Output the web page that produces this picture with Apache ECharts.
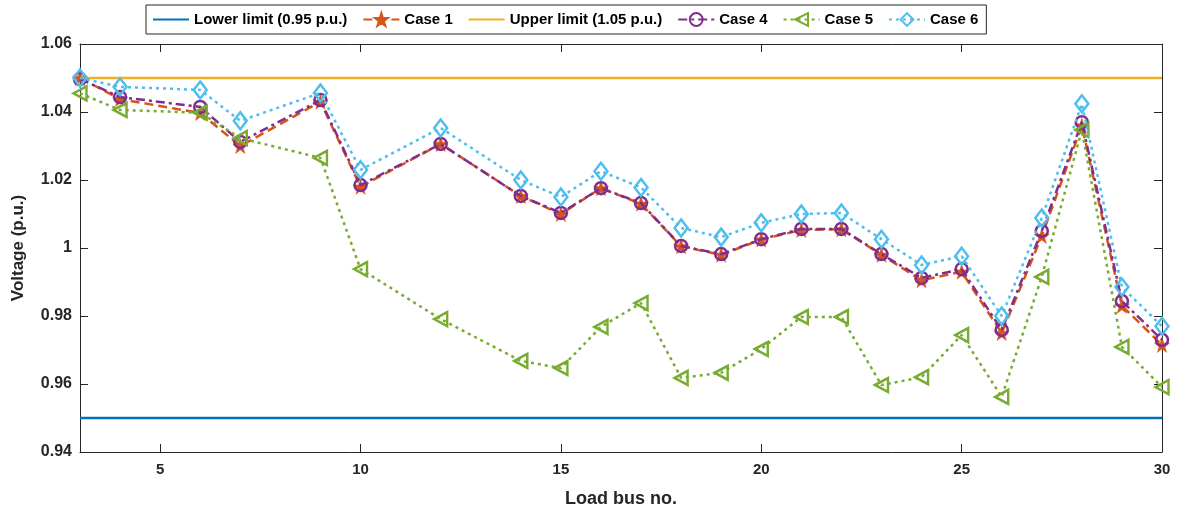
<!DOCTYPE html>
<html>
<head>
<meta charset="utf-8">
<script src="https://cdn.jsdelivr.net/npm/echarts@6/dist/echarts.min.js"></script>
<style>
html,body{margin:0;padding:0;background:#fff;}
#c{width:1187px;height:514px;}
</style>
</head>
<body>
<div id="c"></div>
<script>
const buses = [3,4,6,7,9,10,12,14,15,16,17,18,19,20,21,22,23,24,25,26,27,28,29,30];
const case1 = [1.0500,1.0438,1.0397,1.0300,1.0430,1.0180,1.0306,1.0153,1.0100,1.0176,1.0130,1.0005,0.9980,1.0025,1.0053,1.0055,0.9980,0.9905,0.9930,0.9750,1.0035,1.0360,0.9830,0.9715];
const case4 = [1.0497,1.0444,1.0415,1.0312,1.0435,1.0185,1.0306,1.0153,1.0103,1.0176,1.0132,1.0006,0.9982,1.0026,1.0056,1.0056,0.9982,0.9912,0.9938,0.9759,1.0050,1.0370,0.9844,0.9730];
const case5 = [1.0455,1.0406,1.0398,1.0323,1.0265,0.9938,0.9791,0.9668,0.9647,0.9768,0.9838,0.9618,0.9633,0.9703,0.9797,0.9797,0.9597,0.9620,0.9744,0.9562,0.9915,1.0347,0.9709,0.9591];
const case6 = [1.0500,1.0474,1.0465,1.0374,1.0456,1.0230,1.0353,1.0200,1.0150,1.0226,1.0178,1.0059,1.0032,1.0074,1.0100,1.0103,1.0026,0.9950,0.9976,0.9800,1.0088,1.0424,0.9885,0.9770];
const lowerLimit = 0.95;
const upperLimit = 1.05;
const xTicks = [5,10,15,20,25,30];
const names = ['Lower limit (0.95 p.u.)','Case 1','Upper limit (1.05 p.u.)','Case 4','Case 5','Case 6'];

const pair = arr => buses.map((b,i)=>[b,arr[i]]);
const xMin = buses[0], xMax = buses[buses.length-1];
const star = 'path://M50,0 L61.8,35.4 L99,35.4 L69,57.3 L80.4,92.7 L50,70.8 L19.6,92.7 L31,57.3 L1,35.4 L38.2,35.4 Z';
const FONT = 'Liberation Sans, Arial, sans-serif';
const AX = '#262626';

const chart = echarts.init(document.getElementById('c'));
chart.setOption({
  animation:false,
  backgroundColor:'#fff',
  textStyle:{fontFamily:FONT},
  legend:{
    top:5, left:146,
    data:names.map((n,i)=> (i===0||i===2) ? {name:n,itemStyle:{opacity:0}} : {name:n}),
    itemWidth:36, itemHeight:16, itemGap:15,
    padding:[7,8,7,6],
    borderColor:'#262626', borderWidth:1, backgroundColor:'#fff',
    textStyle:{fontFamily:FONT,fontWeight:'bold',fontSize:15,color:'#000'}
  },
  grid:{left:80,right:25,top:44,bottom:62,containLabel:false},
  xAxis:[{
    type:'value', min:xMin, max:xMax,
    name:'Load bus no.', nameLocation:'middle', nameGap:38,
    nameTextStyle:{fontFamily:FONT,fontWeight:'bold',fontSize:18,color:'#262626'},
    axisLine:{onZero:false,lineStyle:{color:AX,width:1}},
    axisTick:{inside:true,length:8,customValues:xTicks,lineStyle:{color:AX}},
    axisLabel:{customValues:xTicks,fontWeight:'bold',fontSize:15,color:'#262626',margin:10},
    splitLine:{show:false}
  },{
    type:'value', min:xMin, max:xMax, position:'top',
    axisLine:{onZero:false,lineStyle:{color:AX,width:1}},
    axisTick:{inside:true,length:8,customValues:xTicks,lineStyle:{color:AX}},
    axisLabel:{show:false}, splitLine:{show:false}
  }],
  yAxis:[{
    type:'value', min:0.94, max:1.06, interval:0.02,
    name:'Voltage (p.u.)', nameLocation:'middle', nameGap:53,
    nameTextStyle:{fontFamily:FONT,fontWeight:'bold',fontSize:17,color:'#262626'},
    axisLine:{show:true,onZero:false,lineStyle:{color:AX,width:1}},
    axisTick:{show:true,inside:true,length:8,lineStyle:{color:AX}},
    axisLabel:{fontWeight:'bold',fontSize:16,color:'#262626',margin:8,
      formatter:v=>String(+v.toFixed(2))},
    splitLine:{show:false}
  },{
    type:'value', min:0.94, max:1.06, interval:0.02, position:'right',
    axisLine:{show:true,onZero:false,lineStyle:{color:AX,width:1}},
    axisTick:{show:true,inside:true,length:8,lineStyle:{color:AX}},
    axisLabel:{show:false}, splitLine:{show:false}
  }],
  series:[
    {name:names[0],type:'line',data:[[xMin,lowerLimit],[xMax,lowerLimit]],symbol:'none',
     color:'#0072BD',lineStyle:{color:'#0072BD',width:2.5},z:2},
    {name:names[1],type:'line',data:pair(case1),symbol:star,symbolSize:15,
     color:'#D95319',itemStyle:{color:'#D95319',borderColor:'#D95319',borderWidth:0.5},
     lineStyle:{color:'#D95319',width:2.5,type:[9,5]},z:3},
    {name:names[2],type:'line',data:[[xMin,upperLimit],[xMax,upperLimit]],symbol:'none',
     color:'#EDB120',lineStyle:{color:'#EDB120',width:2.5},z:4},
    {name:names[3],type:'line',data:pair(case4),symbol:'circle',symbolSize:12,
     color:'#7E2F8E',itemStyle:{color:'rgba(0,0,0,0)',borderColor:'#7E2F8E',borderWidth:2.5},
     lineStyle:{color:'#7E2F8E',width:2.5,type:[9,4,3,4]},z:5},
    {name:names[4],type:'line',data:pair(case5),symbol:'triangle',symbolRotate:90,symbolSize:[14,13],
     color:'#77AC30',itemStyle:{color:'rgba(0,0,0,0)',borderColor:'#77AC30',borderWidth:2.5},
     lineStyle:{color:'#77AC30',width:2.5,type:[3,4]},z:6},
    {name:names[5],type:'line',data:pair(case6),symbol:'diamond',symbolSize:[13,17],
     color:'#4DBEEE',itemStyle:{color:'rgba(0,0,0,0)',borderColor:'#4DBEEE',borderWidth:2.5},
     lineStyle:{color:'#4DBEEE',width:2.5,type:[3,4]},z:7}
  ]
});
</script>
</body>
</html>
